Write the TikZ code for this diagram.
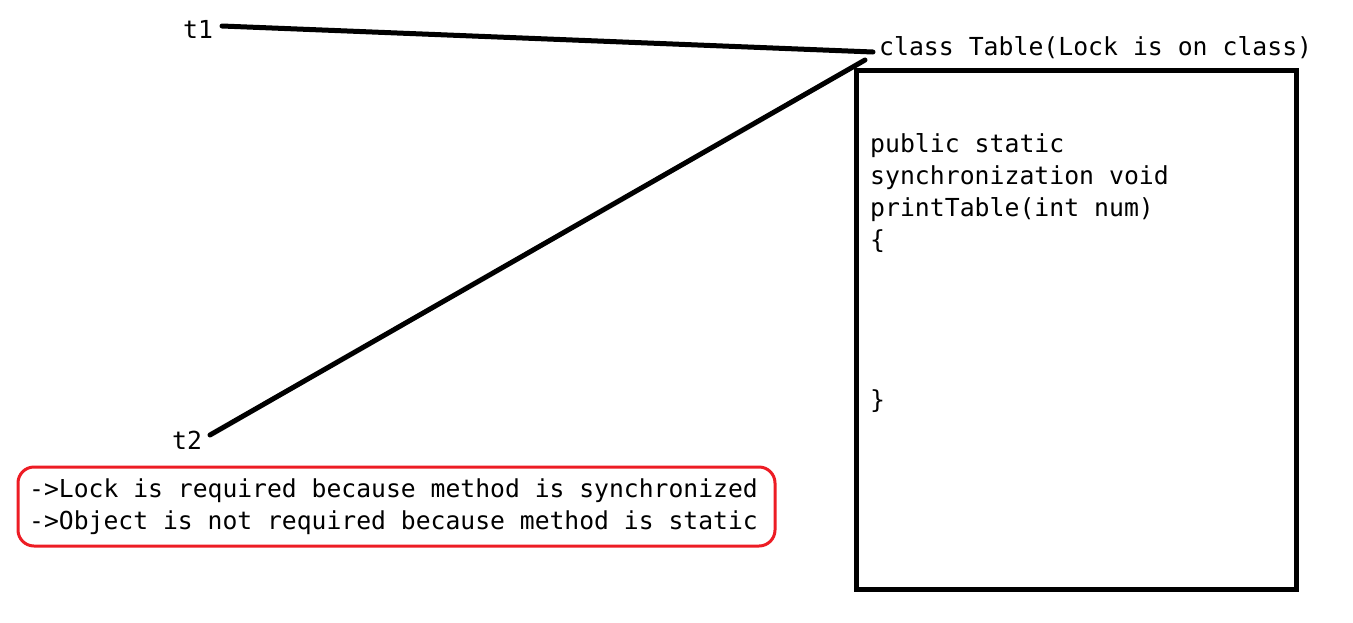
\documentclass[tikz,border=0pt]{standalone}
\usepackage{fontspec}
\setmonofont{DejaVu Sans Mono}
\usetikzlibrary{positioning}
\definecolor{paintred}{RGB}{237,28,36}
\tikzset{
  code/.style={font=\ttfamily\fontsize{24.8}{32}\selectfont, inner sep=0pt, anchor=base west, align=left},
  remark/.style={code, font=\ttfamily\fontsize{24.7}{32}\selectfont},
  wire/.style={line width=5pt, line cap=round},
  notebox/.style={draw=paintred, line width=3pt, rounded corners=16pt},
}
\begin{document}
\begin{tikzpicture}[x=1pt,y=-1pt]
   \useasboundingbox (0,0) rectangle (1353,622);
   % threads
   \node [code] (t1) at (183,38) {t1};
   \node [code] (t2) at (172,449) {t2};
   % class
   \node [code] (cls) at (879,55) {class Table(Lock is on class)};
   \draw [wire] (856.5,70.5) rectangle (1296.5,589.5);
   % base anchor sits on the last line
   \node [code] (method) at (870,408) {public static\\synchronization void\\printTable(int num)\\\{\\[128pt]\}};
   \coordinate (c1) at (873,52);
   \coordinate (c2) at (865,60);
   \draw [wire] (222,26) -- (c1);
   \draw [wire] (210,435) -- (c2);
   % note
   \node [remark] (note) at (29,529) {->Lock is required because method is synchronized\\->Object is not required because method is static};
   \draw [notebox] (18,467) rectangle (775,546);
\end{tikzpicture}
\end{document}
